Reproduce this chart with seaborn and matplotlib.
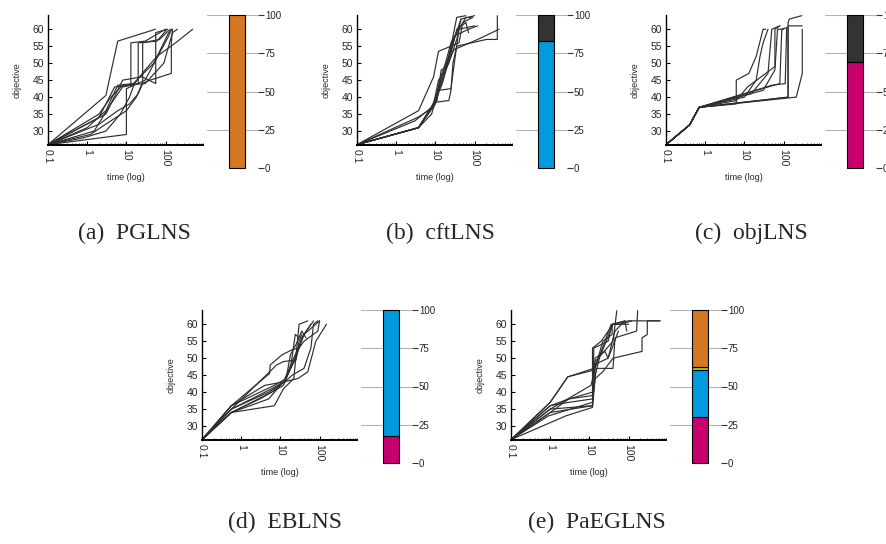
import numpy as np
import pandas as pd
import matplotlib
matplotlib.use('Agg')
import matplotlib.pyplot as plt
import seaborn as sns
from matplotlib.ticker import LogLocator, NullFormatter

# --- runs: list of (time, objective) points for each run ---
pglns_runs = [
    [(0.1, 26), (3, 40.5), (6, 56.5), (55, 60)],
    [(0.1, 26), (10, 29), (10, 42.5), (30, 45), (120, 58), (140, 60)],
    [(0.1, 26), (2, 34), (5, 43), (13, 43.5), (13, 56), (30, 56.5), (100, 60)],
    [(0.1, 26), (1.5, 30), (4, 38), (8, 43), (20, 44), (20, 56), (60, 56.5), (110, 60)],
    [(0.1, 26), (3, 35), (8, 45), (25, 46), (56, 44), (56, 59), (110, 60)],
    [(0.1, 26), (2, 32), (6, 36), (12, 38), (20, 41), (26, 44), (26, 56), (70, 57), (130, 60)],
    [(0.1, 26), (1.2, 29), (4, 33), (10, 36), (18, 40), (25, 44), (40, 45), (140, 47), (140, 56), (150, 60)],
    [(0.1, 26), (1, 31), (3, 36), (6, 43.5), (15, 44), (50, 50), (120, 59), (150, 60)],
    [(0.1, 26), (0.8, 28), (3, 30), (7, 35), (12, 40), (16, 44), (30, 48), (60, 52), (180, 56), (490, 60)],
    [(0.1, 26), (2, 35), (4, 40), (8, 43.5), (30, 44), (90, 50), (150, 59), (200, 60)],
]

cftlns_runs = [
    [(0.1, 26), (3.7, 31), (8, 35), (12, 42), (18, 48), (25, 55), (35, 63.5), (60, 64)],
    [(0.1, 26), (3.7, 31), (7, 36), (11, 40), (15, 47), (22, 52), (30, 57), (45, 63), (100, 64)],
    [(0.1, 26), (3.7, 36), (9, 46), (12, 53.5), (40, 56), (50, 62), (90, 63.5)],
    [(0.1, 26), (3.7, 31), (10, 38.5), (22, 39), (25, 42), (28, 50), (35, 55), (200, 57), (380, 57), (380, 64)],
    [(0.1, 26), (3.7, 31), (10, 38), (14, 44), (20, 50), (30, 54), (120, 57), (420, 60)],
    [(0.1, 26), (3.5, 34), (9, 37), (13, 45), (18, 50), (25, 56), (40, 60), (100, 61)],
    [(0.1, 26), (3.7, 31), (11, 39), (14, 48), (20, 49), (30, 58), (70, 60), (120, 61)],
    [(0.1, 26), (3, 33), (8, 37), (12, 42), (25, 42.5), (28, 47), (40, 60), (60, 63.5), (80, 63.5)],
    [(0.1, 26), (3.7, 31), (9, 38), (12, 45), (16, 47), (22, 50), (35, 57), (45, 63)],
    [(0.1, 26), (3.7, 31), (10, 39), (15, 44), (25, 53), (35, 60), (60, 62), (70, 59)],
]

objlns_runs = [
    [(0.1, 26), (0.4, 31.8), (0.7, 37), (6.2, 38), (6.2, 45), (13, 47), (20, 52), (30, 60), (35, 60)],
    [(0.1, 26), (0.4, 31.8), (0.7, 37), (10, 40), (20, 45), (25, 52), (30, 56), (40, 60)],
    [(0.1, 26), (0.4, 31.8), (0.7, 37), (15, 41), (40, 47), (50, 60), (80, 61)],
    [(0.1, 26), (0.4, 31.8), (0.7, 37), (30, 42), (60, 48), (70, 60), (100, 60)],
    [(0.1, 26), (0.4, 31.8), (0.7, 37), (40, 43), (80, 44), (90, 60), (120, 60.5)],
    [(0.1, 26), (0.4, 31.8), (0.7, 37), (50, 43.5), (110, 44), (120, 60.5)],
    [(0.1, 26), (0.4, 31.8), (0.7, 37), (130, 40), (130, 61), (300, 61)],
    [(0.1, 26), (0.4, 31.8), (0.7, 37), (130, 40), (130, 62), (140, 63), (290, 64)],
    [(0.1, 26), (0.4, 31.8), (0.7, 37), (210, 40), (300, 47), (300, 60)],
    [(0.1, 26), (0.4, 31.8), (0.7, 37), (6.2, 39), (12, 43), (60, 49), (60, 60), (80, 61)],
]

eblns_runs = [
    [(0.1, 26), (0.56, 36), (5.3, 45.5), (5.5, 48), (11, 51), (20, 52.5), (30, 53), (40, 57), (60, 60)],
    [(0.1, 26), (0.56, 34), (7, 36), (12, 41), (22, 44), (30, 60), (50, 61)],
    [(0.1, 26), (0.56, 34), (5, 38), (12, 43), (25, 50), (35, 56), (70, 61)],
    [(0.1, 26), (0.56, 35), (5, 40), (13, 43), (20, 45), (40, 47), (60, 53), (70, 60), (90, 61)],
    [(0.1, 26), (0.56, 36), (4, 42), (12, 43), (28, 44), (50, 46), (80, 55), (150, 60)],
    [(0.1, 26), (0.56, 35), (6, 41), (12, 43), (20, 49), (40, 57), (100, 61)],
    [(0.1, 26), (0.56, 34), (3, 38), (12, 42), (30, 53), (40, 55), (90, 58), (100, 61)],
    [(0.1, 26), (0.56, 36), (7, 42), (14, 44), (18, 51), (25, 54), (35, 58), (45, 56)],
    [(0.1, 26), (0.56, 35), (8, 48), (12, 49), (25, 49.5), (30, 55), (35, 57)],
    [(0.1, 26), (0.56, 34), (6, 40), (12, 43), (18, 47), (24, 57), (30, 56)],
]

paeglns_runs = [
    [(0.1, 26), (1, 37), (2.8, 44.5), (13, 47), (14, 49), (40, 55), (50, 64)],
    [(0.1, 26), (1, 35), (12, 36), (12, 53), (20, 55), (40, 60), (100, 61), (650, 61)],
    [(0.1, 26), (0.9, 33), (12, 37), (14, 45), (18, 50), (40, 60), (60, 60), (120, 61)],
    [(0.1, 26), (1, 34), (3, 38), (12, 39), (13, 48), (30, 50), (45, 58), (80, 61)],
    [(0.1, 26), (1, 36), (3, 37), (12, 38), (15, 47), (40, 47), (45, 56), (160, 58), (170, 64)],
    [(0.1, 26), (2.5, 33), (12, 35.5), (14, 44), (22, 46), (40, 50), (220, 52), (220, 56), (300, 57), (300, 61), (600, 61)],
    [(0.1, 26), (1, 36), (3, 38), (12, 40), (13, 53), (30, 55), (38, 60), (80, 61), (90, 58)],
    [(0.1, 26), (1, 35), (11, 42), (14, 47), (22, 55), (38, 57), (38, 60), (100, 60)],
    [(0.1, 26), (1, 37), (2.8, 44.5), (13, 46.5), (20, 52), (36, 60)],
    [(0.1, 26), (1, 34), (12, 36), (14, 50), (25, 52), (30, 50), (38, 53), (55, 58)],
]

# --- share of best solutions found by each operator (percent) ---
pglns_share = [100]
pglns_colors = ['#d57622']
cftlns_share = [83, 17]
cftlns_colors = ['#009ade', '#333333']
objlns_share = [69, 31]
objlns_colors = ['#c8006e', '#333333']
eblns_share = [17.5, 82.5]
eblns_colors = ['#c8006e', '#009ade']
paeglns_share = [30, 30.5, 2.2, 37.3]
paeglns_colors = ['#c8006e', '#009ade', '#a8c83c', '#d57622']

W, H = 886, 544

sns.set_theme(style='white')
plt.rcParams['font.family'] = ['Liberation Sans', 'DejaVu Sans']

fig = plt.figure(figsize=(W / 100, H / 100), dpi=100)


def draw_panel(runs, shares, colors, caption, left, top, cap_x, cap_y):
    rows = []
    for i, run in enumerate(runs):
        for t, o in run:
            rows.append({'run': i, 'time': t, 'objective': o})
    df = pd.DataFrame(rows)

    ax = fig.add_axes([left / W, 1 - (top + 130) / H, 155 / W, 130 / H])
    ax.set_xscale('log')
    sns.lineplot(data=df, x='time', y='objective', units='run', estimator=None,
                 sort=False, color='#2e2e2e', linewidth=0.85, ax=ax)
    ax.set_xlim(0.1, 900)
    ax.set_ylim(25.9, 64.2)
    ax.set_xticks([0.1, 1, 10, 100])
    ax.set_xticklabels(['0.1', '1', '10', '100'], rotation=-90)
    ax.xaxis.set_minor_locator(LogLocator(base=10, subs=np.arange(2, 10)))
    ax.xaxis.set_minor_formatter(NullFormatter())
    ax.set_yticks([30, 35, 40, 45, 50, 55, 60])
    ax.tick_params(axis='both', which='major', direction='in', length=3, width=0.8,
                   labelsize=7.5, pad=3, color='black', bottom=True, left=True)
    ax.tick_params(axis='x', which='minor', direction='in', length=1.5, width=0.6,
                   bottom=True)
    for side in ['top', 'right']:
        ax.spines[side].set_visible(False)
    ax.spines['left'].set_color('black')
    ax.spines['left'].set_linewidth(1.0)
    ax.spines['bottom'].set_color('black')
    ax.spines['bottom'].set_linewidth(1.4)
    ax.set_xlabel('time (log)', fontsize=6.5, labelpad=5)
    ax.set_ylabel('objective', fontsize=6.5, labelpad=8)

    # stacked share bar
    bx = fig.add_axes([(left + 159) / W, 1 - (top + 153) / H, 51 / W, 153 / H])
    bottom = 0
    for s, c in zip(shares, colors):
        bx.bar(0, s, bottom=bottom, width=1, color=c, edgecolor='black',
               linewidth=0.8, zorder=3, clip_on=False)
        bottom += s
    bx.set_xlim(-1.9, 1.3)
    bx.set_ylim(0, 100)
    bx.set_xticks([])
    bx.set_yticks([0, 25, 50, 75, 100])
    bx.yaxis.tick_right()
    bx.tick_params(axis='y', direction='out', length=4, width=0.8, labelsize=7,
                   pad=1, color='#333333', right=True)
    bx.grid(axis='y', color='#b4b4b4', linewidth=0.8)
    for side in bx.spines:
        bx.spines[side].set_visible(False)

    fig.text(cap_x / W, 1 - cap_y / H, caption, ha='center', va='center',
             family='Liberation Serif', fontsize=17)


draw_panel(pglns_runs, pglns_share, pglns_colors, '(a)  PGLNS', 48, 15, 134, 233)
draw_panel(cftlns_runs, cftlns_share, cftlns_colors, '(b)  cftLNS', 357, 15, 440, 233)
draw_panel(objlns_runs, objlns_share, objlns_colors, '(c)  objLNS', 666, 15, 751, 233)
draw_panel(eblns_runs, eblns_share, eblns_colors, '(d)  EBLNS', 202, 310, 285, 522)
draw_panel(paeglns_runs, paeglns_share, paeglns_colors, '(e)  PaEGLNS', 511, 310, 597, 522)

fig.savefig('out.png', dpi=100)
